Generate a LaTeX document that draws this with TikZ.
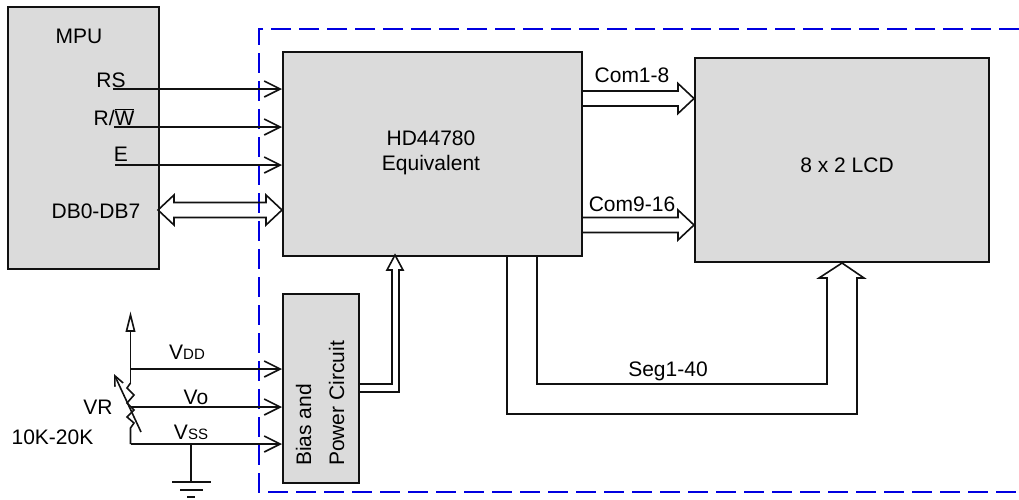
\documentclass[tikz,border=0pt]{standalone}
\usepackage{fontspec}
\setmainfont{Liberation Sans}
\usetikzlibrary{arrows.meta,positioning}
\definecolor{miblock}{HTML}{DBDBDB}
\definecolor{miline}{HTML}{111111}
\definecolor{midash}{HTML}{0000E0}

\begin{document}
\begin{tikzpicture}[
    x=1pt, y=-1pt,
    >={Straight Barb[length=16pt,width=16pt,line width=1.6pt]},
    block/.style={draw=miline, line width=1.6pt, fill=miblock, anchor=north west, inner sep=0pt},
    wire/.style={->, line width=1.6pt, miline},
    plain/.style={line width=1.6pt, miline},
    bus/.style={line width=1.6pt, miline, line join=miter},
    label/.style={font=\fontsize{21}{25}\selectfont, text=black, inner sep=0pt},
]
\useasboundingbox (0,0) rectangle (1019,499);

% Outline of the module
\coordinate (dashstart) at (1019,29);
\coordinate (dashtop) at (259,29);
\coordinate (dashbot) at (259,492);
\coordinate (dashend) at (1019,492);
\draw[midash, line width=1.6pt, dash pattern=on 20pt off 8pt] (dashstart) -- (dashtop) -- (dashbot) -- (dashend);

% Blocks
\node[block, minimum width=151pt, minimum height=262pt] (mpu) at (7,6) {};
\node[block, minimum width=299pt, minimum height=204pt] (hd) at (282,51) {};
\node[block, minimum width=294pt, minimum height=204pt] (lcd) at (694,57) {};
\node[block, minimum width=76pt, minimum height=189pt] (bias) at (282,293) {};
\node[label, align=center] (hdtext) at (431,153) {HD44780\\Equivalent};
\node[label] (lcdtext) at (847,165) {8 x 2 LCD};
\node[label, rotate=90, align=left, font=\fontsize{21}{33}\selectfont] (biastext) at (320,403.5) {Bias and\\Power Circuit};

% MPU pins
\node[label] (mpulabel) at (79,36) {MPU};
\node[label] (rs) at (111,80) {RS};
\node[label] (rw) at (114,117) {R/$\overline{\mbox{W}}$};
\node[label] (en) at (121,154) {E};
\node[label] (db) at (96,211) {DB0-DB7};
\coordinate (rsstart) at (113,89);
\coordinate (rwstart) at (114,127);
\coordinate (enstart) at (115,165);
\draw[wire] (rsstart) -- (rsstart -| hd.west);
\draw[wire] (rwstart) -- (rwstart -| hd.west);
\draw[wire] (enstart) -- (enstart -| hd.west);

% Data bus
\coordinate (dbl) at (158,210);
\coordinate (dbr) at (282,210);
\draw[bus] (dbl) -- ++(16,-15) -- ++(0,7.5) -- ++(92,0) -- ++(0,-7.5) -- (dbr)
    -- ++(-16,15) -- ++(0,-7.5) -- ++(-92,0) -- ++(0,7.5) -- cycle;

% Com buses
\coordinate (coma) at (694,98.5);
\coordinate (comb) at (694,225);
\draw[bus] (581,91) -- ++(97,0) -- ++(0,-7.5) -- (coma) -- ++(-16,15) -- ++(0,-7.5) -- (581,106);
\draw[bus] (581,217.5) -- ++(97,0) -- ++(0,-7.5) -- (comb) -- ++(-16,15) -- ++(0,-7.5) -- (581,232.5);
\node[label] (com1) at (632,75) {Com1-8};
\node[label] (com9) at (632,204) {Com9-16};

% Seg bus
\coordinate (segtip) at (842,263);
\draw[bus] (507,255) |- (857,414) |- (864,278) -- (segtip) -- (819,278) -- (827,278) |- (537,384) -- (537,255);
\node[label] (seg) at (668,371) {Seg1-40};

% Supply to the controller
\coordinate (powtip) at (395,255);
\draw[bus] (358,384) -| (392,270) -- (387,270) -- (powtip) -- (403,270) -- (399,270) |- (358,392);

% Resistor
\coordinate (vtip) at (130.5,315);
\coordinate (vtop) at (130.5,383);
\coordinate (vbot) at (130.5,444);
\coordinate (gnd) at (191,482);
\draw[plain] (vtop) -- (130.5,331);
\draw[plain, fill=white] (126.5,331) -- (vtip) -- (134.5,331) -- cycle;
\draw[plain] (vtop) -- (127,388) -- (134,395) -- (127,403) -- (134,410) -- (127,417) -- (134,423) -- (130.5,428) -- (vbot);
\draw[-{Straight Barb[length=10pt,width=9pt]}, plain] (141,432) -- (114,374);
\node[label] (vr) at (98,407) {VR};
\node[label] (range) at (52.5,437) {10K-20K};

\coordinate (vdd) at (130.5,369);
\coordinate (vo) at (130.5,407);
\draw[wire] (vdd) -- (vdd -| bias.west);
\draw[wire] (vo) -- (vo -| bias.west);
\draw[wire] (vbot) -- (vbot -| bias.west);
\node[label] (vddl) at (187,352) {V{\fontsize{15}{16}\selectfont DD}};
\node[label] (vol) at (196,397) {Vo};
\node[label] (vssl) at (191,432) {V{\fontsize{15}{16}\selectfont SS}};

% Ground
\coordinate (gnda) at (172,482);
\coordinate (gndb) at (211,482);
\coordinate (gndc) at (180,490);
\coordinate (gndd) at (203,490);
\coordinate (gnde) at (187,497);
\coordinate (gndf) at (195,497);
\draw[plain] (191,444) -- (gnd);
\draw[plain] (gnda) -- (gndb);
\draw[plain] (gndc) -- (gndd);
\draw[plain] (gnde) -- (gndf);
\end{tikzpicture}
\end{document}
